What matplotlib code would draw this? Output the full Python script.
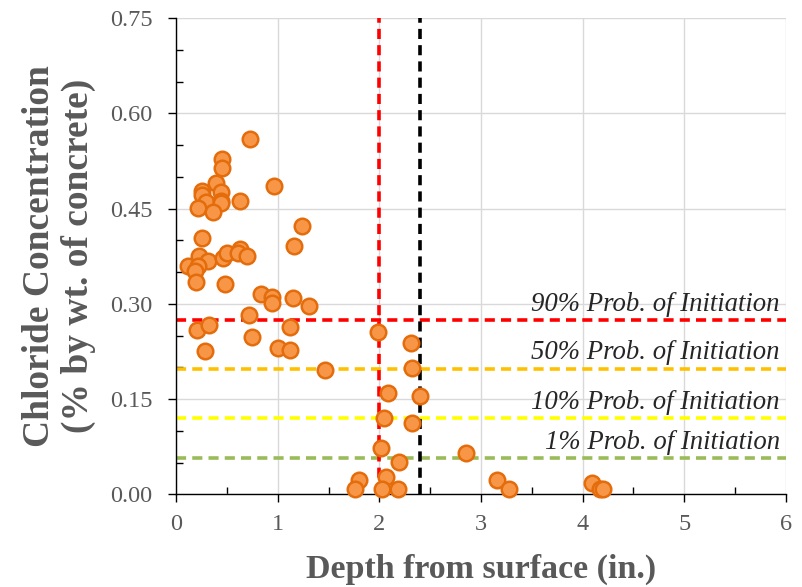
import matplotlib.pyplot as plt
from matplotlib.ticker import MultipleLocator

# depth (in.) and chloride concentration (% by wt. of concrete)
depth = [0.73, 0.45, 0.45, 0.96, 0.39, 0.26, 0.26, 0.44, 0.29, 0.44, 0.44,
         0.22, 0.36, 0.63, 1.24, 1.16, 0.26, 0.23, 0.31, 0.12, 0.22, 0.19,
         0.20, 0.46, 0.50, 0.63, 0.61, 0.70, 0.48, 0.84, 0.94, 0.94, 1.15,
         1.31, 0.72, 0.21, 0.32, 0.75, 0.28, 1.00, 1.12, 1.47, 1.12, 1.99,
         2.31, 2.32, 2.09, 2.40, 2.05, 2.32, 2.02, 2.19, 2.85, 1.80, 1.76,
         2.07, 2.03, 2.18, 3.16, 3.28, 4.09, 4.17, 4.20]
chloride = [0.560, 0.528, 0.514, 0.486, 0.490, 0.477, 0.472, 0.476, 0.460,
            0.462, 0.459, 0.451, 0.445, 0.462, 0.422, 0.391, 0.403, 0.375,
            0.367, 0.359, 0.359, 0.351, 0.335, 0.372, 0.380, 0.386, 0.380,
            0.375, 0.331, 0.316, 0.310, 0.301, 0.309, 0.296, 0.282, 0.258,
            0.267, 0.247, 0.225, 0.231, 0.228, 0.195, 0.264, 0.255, 0.239,
            0.199, 0.160, 0.155, 0.120, 0.112, 0.073, 0.051, 0.065, 0.022,
            0.009, 0.027, 0.009, 0.009, 0.022, 0.008, 0.017, 0.008, 0.008]

# probability of initiation thresholds
thresholds = [0.275, 0.198, 0.120, 0.057]
threshold_labels = ['90% Prob. of Initiation', '50% Prob. of Initiation',
                    '10% Prob. of Initiation', '1% Prob. of Initiation']
threshold_colors = ['#FF0000', '#FFC000', '#FFFF00', '#9BBB59']

# cover depths
depth_lines = [2.0, 2.4]
depth_colors = ['#FF0000', '#000000']

SERIF = 'Liberation Serif'
DASH = (0, (2.8, 1.7))

fig = plt.figure(figsize=(8.02, 5.87), dpi=100)
ax = fig.add_axes([0.2195, 0.158, 0.7605, 0.811])

ax.grid(True, which='major', color='#D9D9D9', linewidth=1, zorder=0)
ax.set_axisbelow(True)

for y, lab, c in zip(thresholds, threshold_labels, threshold_colors):
    ax.axhline(y, color=c, linestyle=DASH, linewidth=2.6, zorder=2)
    ax.text(5.94, y + 0.005, lab, ha='right', va='bottom', fontsize=19.3,
            family=SERIF, style='italic', color='#262626', zorder=3)

for x, c in zip(depth_lines, depth_colors):
    ax.axvline(x, color=c, linestyle=DASH, linewidth=2.6, zorder=2)

ax.scatter(depth, chloride, s=125, facecolor='#F79646', edgecolor='#E46C0A',
           linewidth=1.8, zorder=4, clip_on=False)

ax.set_xlim(0, 6)
ax.set_ylim(0, 0.75)
ax.xaxis.set_major_locator(MultipleLocator(1))
ax.xaxis.set_minor_locator(MultipleLocator(0.5))
ax.yaxis.set_major_locator(MultipleLocator(0.15))
ax.yaxis.set_minor_locator(MultipleLocator(0.05))
ax.yaxis.set_major_formatter(plt.FormatStrFormatter('%.2f'))

ax.tick_params(which='major', direction='out', length=6, width=1, color='black',
               labelsize=17.5, labelcolor='#595959')
ax.tick_params(axis='y', which='major', pad=11)
ax.tick_params(axis='x', which='major', pad=8)
ax.tick_params(which='minor', direction='in', length=5, width=1, color='black')
for lab in ax.get_xticklabels() + ax.get_yticklabels():
    lab.set_family(SERIF)

for s in ['top', 'right']:
    ax.spines[s].set_visible(False)
for s in ['left', 'bottom']:
    ax.spines[s].set_color('black')
    ax.spines[s].set_linewidth(1)

ax.set_xlabel('Depth from surface (in.)', fontsize=24.5, fontweight='bold',
              family=SERIF, color='#595959', labelpad=14)
ax.set_ylabel('Chloride Concentration\n(% by wt. of concrete)', fontsize=27,
              fontweight='bold', family=SERIF, color='#595959',
              labelpad=10, linespacing=1.15)

fig.savefig('out.png', dpi=100)
